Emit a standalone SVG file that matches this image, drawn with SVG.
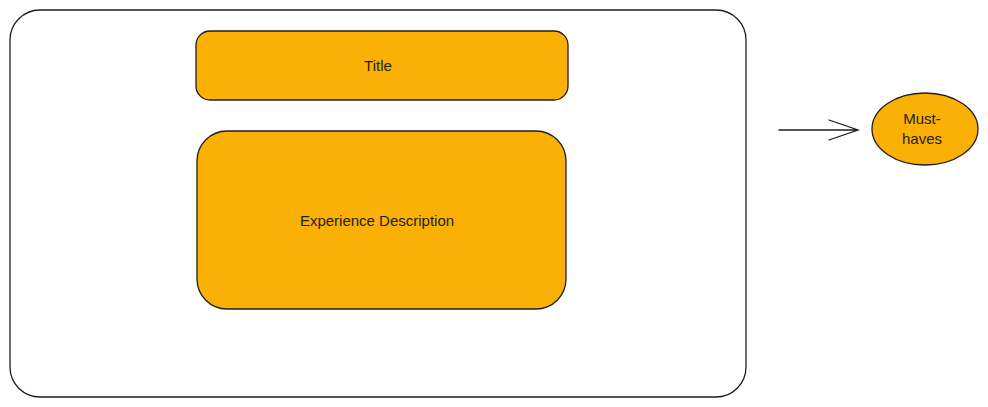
<svg xmlns="http://www.w3.org/2000/svg" width="988" height="407" viewBox="0 0 988 407">
<style>
.box{stroke:#1e1e1e;stroke-width:1.3;fill:#fab005}
.outer{stroke:#1e1e1e;stroke-width:1.3;fill:#ffffff}
.lbl{font-family:"Liberation Sans",Arial,sans-serif;font-size:15px;fill:#1e1e1e;text-anchor:middle;dominant-baseline:central}
.conn{stroke:#1e1e1e;stroke-width:1.3;fill:none;stroke-linecap:round}
</style>
<rect width="988" height="407" fill="#ffffff"/>
<g id="container">
<rect class="outer" x="10" y="10" width="736" height="387" rx="30" ry="30"/>
</g>
<g id="title">
<rect class="box" x="196" y="31" width="372" height="69" rx="14" ry="14"/>
<text class="lbl" x="378" y="65">Title</text>
</g>
<g id="experience">
<rect class="box" x="197" y="131" width="369" height="178" rx="30" ry="30"/>
<text class="lbl" x="377" y="220">Experience Description</text>
</g>
<g id="musthaves">
<ellipse class="box" cx="925" cy="129" rx="53" ry="36"/>
<text class="lbl" x="922" y="118">Must-</text>
<text class="lbl" x="922" y="138">haves</text>
</g>
<g id="connectors">
<path class="conn" d="M779 130 L858 130 M829 120 L858 130 L829 140"/>
</g>
</svg>
